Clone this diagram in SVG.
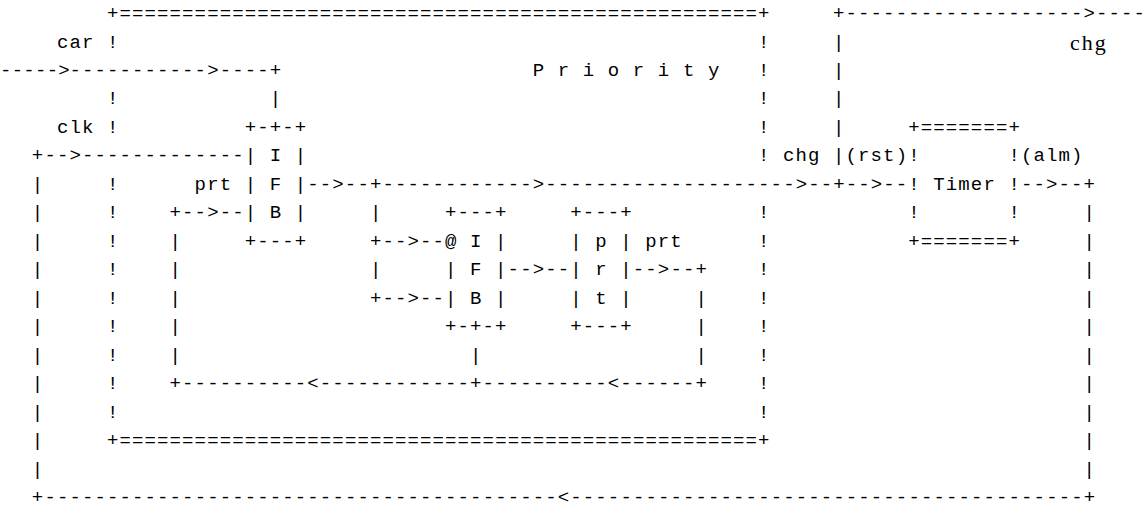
<svg xmlns="http://www.w3.org/2000/svg" width="1148" height="518" viewBox="0 0 1148 518">
<style>
  text { font-family: "Liberation Mono", "DejaVu Sans Mono", monospace; font-size: 19px; letter-spacing: 1.12px; fill: #000; white-space: pre; }
  text.lbl { font-family: "Liberation Serif", serif; font-size: 22px; letter-spacing: 2px; }
  text.tight { letter-spacing: 0.26px; }
</style>
<rect width="1148" height="518" fill="#fff"/>
<!-- character grid: column c starts at x = 12.52*c - 5.7, row r baseline at y = 19 + 28.47*r -->

<!-- Priority process box -->
<g id="priority">
<text x="106.98" y="19">+===================================================+</text>
<text x="106.98" y="446.1">+===================================================+</text>
<text x="532.66" y="75.9" xml:space="preserve">P r i o r i t y</text>
<text x="106.98" y="47.5">!</text>
<text x="106.98" y="104.4">!</text>
<text x="106.98" y="132.9">!</text>
<text x="106.98" y="189.8">!</text>
<text x="106.98" y="218.3">!</text>
<text x="106.98" y="246.8">!</text>
<text x="106.98" y="275.2">!</text>
<text x="106.98" y="303.7">!</text>
<text x="106.98" y="332.2">!</text>
<text x="106.98" y="360.6">!</text>
<text x="106.98" y="389.1">!</text>
<text x="106.98" y="417.6">!</text>
<text x="757.92" y="47.5">!</text>
<text x="757.92" y="75.9">!</text>
<text x="757.92" y="104.4">!</text>
<text x="757.92" y="132.9">!</text>
<text x="757.92" y="161.4">!</text>
<text x="757.92" y="218.3">!</text>
<text x="757.92" y="246.8">!</text>
<text x="757.92" y="275.2">!</text>
<text x="757.92" y="303.7">!</text>
<text x="757.92" y="332.2">!</text>
<text x="757.92" y="360.6">!</text>
<text x="757.92" y="389.1">!</text>
<text x="757.92" y="417.6">!</text>
</g>

<!-- outer IFB block -->
<g id="ifb-outer">
<text x="244.70" y="132.9">+-+-+</text>
<text x="244.70" y="161.4" xml:space="preserve">| I |</text>
<text x="244.70" y="189.8" xml:space="preserve">| F |</text>
<text x="244.70" y="218.3" xml:space="preserve">| B |</text>
<text x="244.70" y="246.8">+---+</text>
</g>

<!-- inner IFB block -->
<g id="ifb-inner">
<text x="445.02" y="218.3">+---+</text>
<text x="445.02" y="246.8" xml:space="preserve">@ I |</text>
<text x="445.02" y="275.2" xml:space="preserve">| F |</text>
<text x="445.02" y="303.7" xml:space="preserve">| B |</text>
<text x="445.02" y="332.2">+-+-+</text>
</g>

<!-- prt block -->
<g id="prt">
<text x="570.22" y="218.3">+---+</text>
<text x="570.22" y="246.8" xml:space="preserve">| p |</text>
<text x="570.22" y="275.2" xml:space="preserve">| r |</text>
<text x="570.22" y="303.7" xml:space="preserve">| t |</text>
<text x="570.22" y="332.2">+---+</text>
</g>

<!-- Timer block -->
<g id="timer">
<text x="908.26" y="132.9">+=======+</text>
<text x="908.26" y="161.4">!</text>
<text x="1008.42" y="161.4">!</text>
<text x="908.26" y="189.8">!</text>
<text x="933.30" y="189.8">Timer</text>
<text x="1008.42" y="189.8">!</text>
<text x="908.26" y="218.3">!</text>
<text x="1008.42" y="218.3">!</text>
<text x="908.26" y="246.8">+=======+</text>
</g>

<!-- signal lines and their labels -->
<g id="connectors">
<text x="833.04" y="19">+------------------->----</text>
<text class="lbl" x="1070" y="50">chg</text>
<text x="56.90" y="47.5">car</text>
<text class="tight" x="0" y="75.9">-----&gt;</text>
<text x="69.42" y="75.9">-----------&gt;----+</text>
<text x="269.74" y="104.4">|</text>
<text x="56.90" y="132.9">clk</text>
<text x="833.04" y="47.5">|</text>
<text x="833.04" y="75.9">|</text>
<text x="833.04" y="104.4">|</text>
<text x="833.04" y="132.9">|</text>
<text x="31.86" y="161.4">+--&gt;-------------</text>
<text x="782.96" y="161.4">chg</text>
<text x="833.04" y="161.4">|(rst)</text>
<text x="1020.94" y="161.4">(alm)</text>
<text x="31.86" y="189.8">|</text>
<text x="194.62" y="189.8">prt</text>
<text x="307.30" y="189.8">--&gt;--+------------&gt;--------------------&gt;--+--&gt;--</text>
<text x="1020.94" y="189.8">--&gt;--+</text>
<text x="31.86" y="218.3">|</text>
<text x="169.58" y="218.3">+--&gt;--</text>
<text x="369.90" y="218.3">|</text>
<text x="31.86" y="246.8">|</text>
<text x="169.58" y="246.8">|</text>
<text x="369.90" y="246.8">+--&gt;--</text>
<text x="645.34" y="246.8">prt</text>
<text x="31.86" y="275.2">|</text>
<text x="169.58" y="275.2">|</text>
<text x="369.90" y="275.2">|</text>
<text x="507.62" y="275.2">--&gt;--</text>
<text x="632.82" y="275.2">--&gt;--+</text>
<text x="31.86" y="303.7">|</text>
<text x="169.58" y="303.7">|</text>
<text x="369.90" y="303.7">+--&gt;--</text>
<text x="695.42" y="303.7">|</text>
<text x="31.86" y="332.2">|</text>
<text x="169.58" y="332.2">|</text>
<text x="695.42" y="332.2">|</text>
<text x="31.86" y="360.6">|</text>
<text x="169.58" y="360.6">|</text>
<text x="470.06" y="360.6">|</text>
<text x="695.42" y="360.6">|</text>
<text x="31.86" y="389.1">|</text>
<text x="169.58" y="389.1">+----------&lt;------------+----------&lt;------+</text>
<text x="31.86" y="417.6">|</text>
<text x="31.86" y="446.1">|</text>
<text x="31.86" y="474.5">|</text>
<text x="31.86" y="503">+-----------------------------------------&lt;-----------------------------------------+</text>
<text x="1083.54" y="218.3">|</text>
<text x="1083.54" y="246.8">|</text>
<text x="1083.54" y="275.2">|</text>
<text x="1083.54" y="303.7">|</text>
<text x="1083.54" y="332.2">|</text>
<text x="1083.54" y="360.6">|</text>
<text x="1083.54" y="389.1">|</text>
<text x="1083.54" y="417.6">|</text>
<text x="1083.54" y="446.1">|</text>
<text x="1083.54" y="474.5">|</text>
</g>
</svg>
